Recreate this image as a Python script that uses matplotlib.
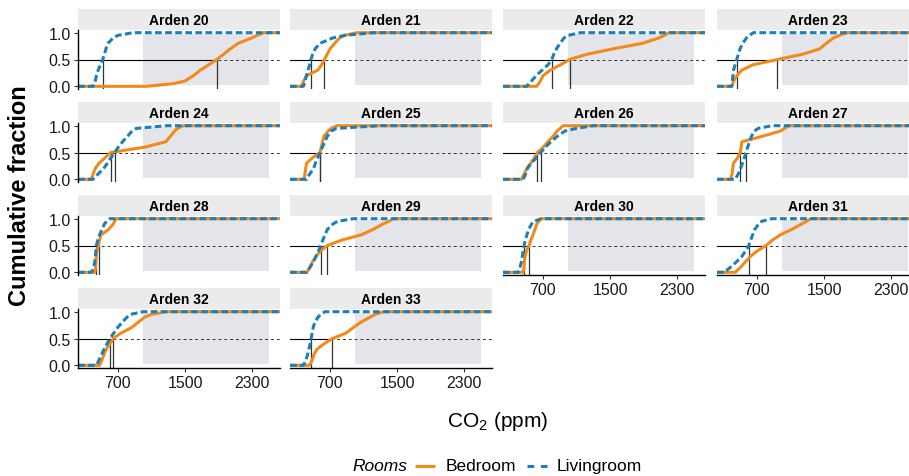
import matplotlib
matplotlib.use("Agg")
import matplotlib.pyplot as plt
from matplotlib.lines import Line2D
import numpy as np

plt.rcParams['font.family'] = ['Liberation Sans', 'DejaVu Sans']
plt.rcParams['mathtext.fontset'] = 'custom'
plt.rcParams['mathtext.rm'] = 'Liberation Sans'

houses = ['Arden 20', 'Arden 21', 'Arden 22', 'Arden 23', 'Arden 24', 'Arden 25', 'Arden 26',
          'Arden 27', 'Arden 28', 'Arden 29', 'Arden 30', 'Arden 31', 'Arden 32', 'Arden 33']

# cumulative fractions at which the CO2 values below were read
fracs = [0, .05, .1, .2, .3, .4, .5, .6, .7, .8, .9, .95, 1.0]

bedroom = [
    [1041, 1360, 1500, 1600, 1680, 1780, 1877, 1960, 2040, 2130, 2290, 2360, 2434],
    [364, 375, 388, 420, 555, 600, 635, 668, 703, 757, 815, 870, 1021],
    [627, 650, 670, 703, 786, 910, 1017, 1230, 1540, 1880, 2080, 2145, 2199],
    [400, 412, 425, 462, 520, 650, 945, 1250, 1450, 1525, 1610, 1680, 1773],
    [385, 395, 405, 430, 475, 545, 615, 1020, 1270, 1325, 1375, 1410, 1479],
    [392, 398, 403, 412, 422, 490, 583, 598, 612, 628, 680, 715, 782],
    [444, 460, 478, 508, 555, 600, 635, 705, 760, 820, 870, 905, 942],
    [384, 395, 405, 412, 420, 470, 503, 512, 520, 760, 980, 1030, 1080],
    [424, 430, 434, 438, 442, 448, 470, 480, 500, 590, 645, 660, 683],
    [424, 445, 465, 495, 535, 590, 670, 840, 1075, 1215, 1330, 1400, 1458],
    [464, 470, 475, 480, 488, 505, 536, 556, 582, 605, 628, 650, 683],
    [444, 475, 510, 565, 625, 705, 810, 885, 980, 1115, 1230, 1290, 1339],
    [484, 495, 510, 535, 560, 605, 643, 735, 860, 940, 1020, 1100, 1280],
    [455, 475, 490, 510, 545, 630, 730, 890, 975, 1065, 1180, 1240, 1339],
]

livingroom = [
    [404, 420, 430, 445, 465, 490, 520, 540, 558, 580, 643, 700, 882],
    [384, 395, 405, 422, 440, 458, 474, 495, 525, 580, 730, 880, 1220],
    [507, 535, 565, 620, 690, 760, 806, 830, 862, 905, 950, 1000, 1144],
    [400, 404, 408, 415, 422, 440, 460, 480, 500, 530, 575, 610, 659],
    [404, 430, 465, 530, 575, 615, 663, 705, 755, 812, 870, 920, 1280],
    [424, 440, 460, 505, 528, 555, 583, 610, 640, 668, 715, 780, 1300],
    [464, 480, 495, 515, 560, 620, 675, 730, 795, 870, 962, 1100, 1300],
    [444, 460, 478, 505, 528, 550, 571, 590, 612, 635, 670, 715, 881],
    [385, 400, 412, 425, 432, 438, 444, 460, 482, 510, 540, 565, 603],
    [424, 445, 465, 505, 535, 565, 591, 615, 642, 670, 735, 790, 981],
    [405, 418, 428, 445, 455, 466, 476, 490, 510, 530, 565, 590, 683],
    [324, 350, 390, 460, 523, 565, 603, 625, 650, 675, 720, 755, 881],
    [444, 460, 475, 505, 535, 570, 605, 650, 695, 750, 810, 850, 1001],
    [384, 400, 415, 435, 450, 465, 477, 488, 500, 520, 560, 590, 643],
]

x_ticks = [700, 1500, 2300]
y_ticks = [0.0, 0.5, 1.0]
band = [1000, 2500]
xlim = (225, 2630)
ylim = (-0.05, 1.05)

ORANGE = '#F28A1A'
BLUE = '#1A80BB'
W, H = 909, 477

fig = plt.figure(figsize=(W / 100, H / 100), dpi=100)


def box(x, y, w, h):
    # pixel box (from top-left) -> figure fraction
    return [x / W, 1 - (y + h) / H, w / W, h / H]


col_x = [78, 290, 503, 717]
for i, name in enumerate(houses):
    r, c = divmod(i, 4)
    top = 10 + 93 * r

    st = fig.add_axes(box(col_x[c], top, 202, 21))
    st.set_facecolor('#EBEBEB')
    st.set_xticks([])
    st.set_yticks([])
    for s in st.spines.values():
        s.set_visible(False)
    st.text(0.5, 0.47, name, ha='center', va='center', fontweight='bold',
            fontsize=10, transform=st.transAxes)

    ax = fig.add_axes(box(col_x[c], top + 21, 202, 59))
    ax.set_xlim(xlim)
    ax.set_ylim(ylim)
    ax.patch.set_alpha(0)
    ax.fill_between(band, 0.03, 0.97, color='#E4E4EB', lw=0, zorder=0)

    bed = np.array(bedroom[i], dtype=float)
    liv = np.array(livingroom[i], dtype=float)
    med_b = np.interp(0.5, fracs, bed)
    med_l = np.interp(0.5, fracs, liv)

    ax.axhline(0.5, color='#333333', lw=0.7, ls=(0, (3, 3)), zorder=1)
    ax.plot([xlim[0], max(med_b, med_l)], [0.5, 0.5], color='black', lw=0.8, zorder=1)
    ax.vlines([med_b, med_l], ylim[0], 0.5, color='#333333', lw=0.9, zorder=1)

    for vals, col, ls in ((bed, ORANGE, '-'), (liv, BLUE, (0, (2.2, 1.1)))):
        xs = np.concatenate([[xlim[0]], vals, [xlim[1]]])
        ys = np.concatenate([[0], fracs, [1]])
        ax.plot(xs, ys, color=col, lw=2.2, ls=ls, solid_capstyle='butt', zorder=2)

    left = c == 0
    bottom = i >= len(houses) - 4
    ax.spines['top'].set_visible(False)
    ax.spines['right'].set_visible(False)
    ax.spines['left'].set_visible(left)
    ax.spines['bottom'].set_visible(bottom)
    for s in ('left', 'bottom'):
        ax.spines[s].set_linewidth(1.0)
    if left:
        ax.set_yticks(y_ticks)
        ax.set_yticklabels(['%.1f' % v for v in y_ticks])
    else:
        ax.set_yticks([])
    if bottom:
        ax.set_xticks(x_ticks)
        ax.set_xticklabels([str(v) for v in x_ticks])
    else:
        ax.set_xticks([])
    ax.tick_params(length=3, width=0.8, labelsize=11.5, labelcolor='#1a1a1a',
                   color='#333333', pad=2)

fig.text(20 / W, 1 - 196 / H, 'Cumulative fraction', rotation=90, ha='center',
         va='center', fontsize=17, fontweight='bold')
fig.text(498 / W, 1 - 422 / H, r'CO$_2$ (ppm)', ha='center', va='center', fontsize=15)

# legend
ly = 1 - 467 / H
fig.text(352 / W, ly, 'Rooms', style='italic', fontsize=12.5, va='center')
fig.add_artist(Line2D([415 / W, 435 / W], [ly, ly], color=ORANGE, lw=2.2,
                      solid_capstyle='butt', transform=fig.transFigure))
fig.text(446 / W, ly, 'Bedroom', fontsize=12.5, va='center')
fig.add_artist(Line2D([527 / W, 547 / W], [ly, ly], color=BLUE, lw=2.2,
                      ls=(0, (2.2, 2.2)), transform=fig.transFigure))
fig.text(557 / W, ly, 'Livingroom', fontsize=12.5, va='center')

fig.savefig('out.png', dpi=100)
